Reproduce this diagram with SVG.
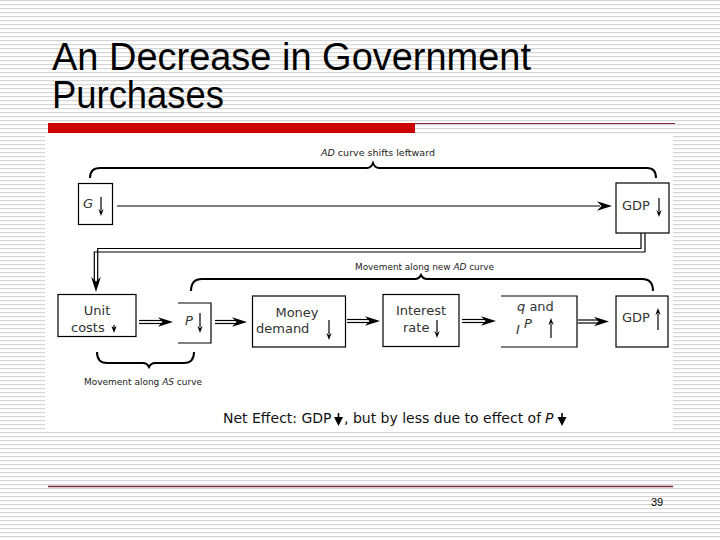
<svg xmlns="http://www.w3.org/2000/svg" xmlns:xlink="http://www.w3.org/1999/xlink" width="720" height="540" viewBox="0 0 720 540">
<defs>
<pattern id="stripes" width="8" height="4" patternUnits="userSpaceOnUse">
<rect width="8" height="4" fill="#ffffff"/>
<rect y="0" width="8" height="1.2" fill="#d6d6d6"/>
</pattern>
<path id="ah" d="M0,0 L-15,-4.8 L-10.5,0 L-15,4.8 Z" fill="#000"/>
<path id="sah" d="M0,0 L-7,-2.6 L-5,0 L-7,2.6 Z" fill="#000"/>
<style>
.box{fill:#fff;stroke:#000;stroke-width:1.2}
.open{fill:none;stroke:#000;stroke-width:1.2}
.brace{fill:none;stroke:#000;stroke-width:2}
.ln{fill:none;stroke:#000;stroke-width:1.2}
.lbl{font-family:"DejaVu Sans",sans-serif;font-size:13px;fill:#333}
.sm{font-family:"DejaVu Sans",sans-serif;font-size:9px;fill:#222}
.net{font-family:"DejaVu Sans",sans-serif;font-size:14px;fill:#111}
.it{font-style:italic}
.title{font-family:"Liberation Sans",Arial,sans-serif;font-size:38px;fill:#000}
</style>
</defs>
<rect width="720" height="540" fill="url(#stripes)"/>
<rect x="45" y="135" width="628" height="297" fill="#fff"/>
<g id="title">
<text class="title" x="52" y="70" textLength="479" lengthAdjust="spacingAndGlyphs">An Decrease in Government</text>
<text class="title" x="52" y="108" textLength="172" lengthAdjust="spacingAndGlyphs">Purchases</text>
</g>
<rect x="48" y="123" width="367" height="10" fill="#cc0000"/>
<line x1="415" y1="123.5" x2="675" y2="123.5" stroke="#8a2438" stroke-width="1"/>
<line x1="48" y1="486.5" x2="673" y2="486.5" stroke="#7a2636" stroke-width="1.4"/>
<text x="657" y="506" text-anchor="middle" font-family="Liberation Sans, sans-serif" font-size="11" fill="#000">39</text>

<g id="connectors">
<line class="ln" x1="117" y1="206" x2="600" y2="206"/>
<use xlink:href="#ah" transform="translate(612,206)"/>
<path class="ln" d="M645,233 V252 H94.3 V281"/>
<path class="ln" d="M641,233 V248.5 H97.7 V281"/>
<use xlink:href="#ah" transform="translate(96,292) rotate(90)"/>
<line class="ln" x1="139" y1="320.5" x2="163" y2="320.5"/>
<line class="ln" x1="139" y1="323.5" x2="163" y2="323.5"/>
<use xlink:href="#ah" transform="translate(173,322)"/>
<line class="ln" x1="215" y1="320.5" x2="237" y2="320.5"/>
<line class="ln" x1="215" y1="323.5" x2="237" y2="323.5"/>
<use xlink:href="#ah" transform="translate(247,322)"/>
<line class="ln" x1="347" y1="319.5" x2="370" y2="319.5"/>
<line class="ln" x1="347" y1="322.5" x2="370" y2="322.5"/>
<use xlink:href="#ah" transform="translate(380,321)"/>
<line class="ln" x1="462" y1="319.5" x2="486" y2="319.5"/>
<line class="ln" x1="462" y1="322.5" x2="486" y2="322.5"/>
<use xlink:href="#ah" transform="translate(496,321)"/>
<line class="ln" x1="578" y1="320" x2="599" y2="320"/>
<line class="ln" x1="578" y1="323" x2="599" y2="323"/>
<use xlink:href="#ah" transform="translate(609,321.5)"/>
</g>

<g id="brace-ad-shift">
<path class="brace" d="M90,178 Q90,168 100,168 H367 Q371,168 373,163 Q375,168 379,168 H647 Q656,168 656,178"/>
<text class="sm" x="378" y="156" text-anchor="middle" textLength="114" lengthAdjust="spacingAndGlyphs"><tspan class="it">AD</tspan> curve shifts leftward</text>
</g>
<g id="brace-new-ad">
<path class="brace" d="M191,291 Q191,279 202,279 H415 Q419,279 421,275 Q423,279 427,279 H642 Q653,279 653,291"/>
<text class="sm" x="424.5" y="270" text-anchor="middle" textLength="139" lengthAdjust="spacingAndGlyphs">Movement along new <tspan class="it">AD</tspan> curve</text>
</g>
<g id="brace-as">
<path class="brace" d="M97,352 Q97,363 107,363 H143 Q147,363 149,367 Q151,363 155,363 H184 Q194,363 194,352"/>
<text class="sm" x="143" y="385" text-anchor="middle" textLength="118" lengthAdjust="spacingAndGlyphs">Movement along <tspan class="it">AS</tspan> curve</text>
</g>

<g id="node-g">
<rect class="box" x="78.5" y="183.5" width="34" height="41"/>
<text class="lbl it" x="83" y="208">G</text>
<line class="ln" x1="101" y1="197" x2="101" y2="210"/>
<use xlink:href="#sah" transform="translate(101,216) rotate(90)"/>
</g>
<g id="node-gdp-down">
<rect class="box" x="616" y="183" width="53" height="50"/>
<text class="lbl" x="622" y="210">GDP</text>
<line class="ln" x1="659" y1="198" x2="659" y2="211"/>
<use xlink:href="#sah" transform="translate(659,217) rotate(90)"/>
</g>
<g id="node-unit-costs">
<rect class="box" x="58" y="294.5" width="78" height="42"/>
<text class="lbl" x="97" y="315" text-anchor="middle">Unit</text>
<text class="lbl" x="71" y="332">costs</text>
<line class="ln" x1="114" y1="325" x2="114" y2="328"/>
<use xlink:href="#sah" transform="translate(114,333) rotate(90)"/>
</g>
<g id="node-p">
<path class="open" d="M178,303 H211 V343 H178"/>
<text class="lbl it" x="185" y="325">P</text>
<line class="ln" x1="200" y1="313" x2="200" y2="327"/>
<use xlink:href="#sah" transform="translate(200,333) rotate(90)"/>
</g>
<g id="node-money-demand">
<rect class="box" x="252.5" y="296" width="93" height="51"/>
<text class="lbl" x="297" y="317" text-anchor="middle">Money</text>
<text class="lbl" x="256" y="333">demand</text>
<line class="ln" x1="329" y1="320" x2="329" y2="334"/>
<use xlink:href="#sah" transform="translate(329,340) rotate(90)"/>
</g>
<g id="node-interest-rate">
<rect class="box" x="383" y="294.5" width="76" height="52"/>
<text class="lbl" x="421" y="315" text-anchor="middle">Interest</text>
<text class="lbl" x="403" y="332">rate</text>
<line class="ln" x1="437" y1="320" x2="437" y2="332"/>
<use xlink:href="#sah" transform="translate(437,338) rotate(90)"/>
</g>
<g id="node-q-ip">
<path class="open" d="M501,296 H577 V347 H501"/>
<text class="lbl" x="517" y="311"><tspan class="it">q</tspan> and</text>
<text class="lbl it" x="516" y="334">I</text>
<text class="lbl it" x="524" y="328" font-size="8.5">P</text>
<line class="ln" x1="551" y1="324" x2="551" y2="338"/>
<use xlink:href="#sah" transform="translate(551,318) rotate(-90)"/>
</g>
<g id="node-gdp-up">
<rect class="box" x="616" y="296" width="52" height="51"/>
<text class="lbl" x="622" y="322">GDP</text>
<line class="ln" x1="658" y1="314" x2="658" y2="330"/>
<use xlink:href="#sah" transform="translate(658,308) rotate(-90)"/>
</g>
<g id="net-effect">
<text class="net" x="223" y="423" font-size="13.8">Net Effect: GDP</text>
<line x1="338.5" y1="413" x2="338.5" y2="419" stroke="#000" stroke-width="1.6"/>
<path d="M338.5,426 L334,417 L343,417 Z" fill="#000"/>
<text class="net" x="344" y="423" font-size="14">, but by less due to effect of</text>
<text class="net it" x="545" y="423" font-size="14">P</text>
<line x1="562" y1="413" x2="562" y2="419" stroke="#000" stroke-width="1.6"/>
<path d="M562,426 L557.5,417 L566.5,417 Z" fill="#000"/>
</g>
</svg>
